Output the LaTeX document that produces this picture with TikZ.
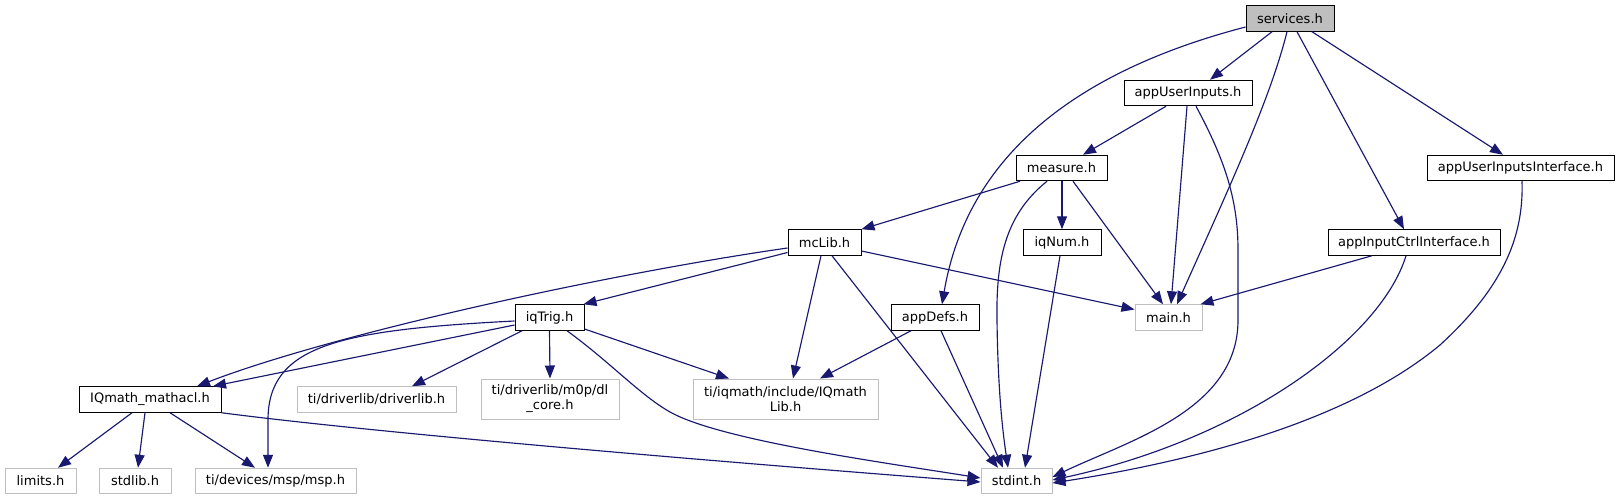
\documentclass[tikz,border=0pt]{standalone}
\usepackage{fontspec}
\setmainfont{DejaVu Sans}
\usetikzlibrary{arrows.meta,calc}
\definecolor{edgeblue}{HTML}{191970}
\definecolor{lightgr}{HTML}{BFBFBF}
\begin{document}
\begin{tikzpicture}[x=1pt,y=-1pt,
  box/.style={draw=black,line width=1pt,fill=white,rectangle,inner sep=0pt,minimum height=25.5pt,font=\fontsize{13}{15}\selectfont,text=black,align=center},
  ext/.style={box,draw=lightgr},
  root/.style={box,fill=lightgr},
  dep/.style={draw=edgeblue,line width=1.15pt,-{Triangle[length=13pt,width=10pt]}}]
\useasboundingbox (0,0) rectangle (1619,500);
% nodes
\node[root,minimum width=88pt]  (svc)  at (1290,18.5)  {services.h};
\node[box,minimum width=128pt]  (aui)  at (1188,93)    {appUserInputs.h};
\node[box,minimum width=187pt]  (auii) at (1520.5,168) {appUserInputsInterface.h};
\node[box,minimum width=91pt]   (meas) at (1061.5,168) {measure.h};
\node[box,minimum width=73pt]   (mcl)  at (824.5,242.5) {mcLib.h};
\node[box,minimum width=78pt]   (iqn)  at (1062,242.5) {iqNum.h};
\node[box,minimum width=172pt]  (aici) at (1414,242.5) {appInputCtrlInterface.h};
\node[box,minimum width=69pt]   (iqt)  at (549.5,317.5) {iqTrig.h};
\node[box,minimum width=88pt]   (apd)  at (935,317.5)  {appDefs.h};
\node[ext,minimum width=67pt]   (mainh) at (1168.5,317.5) {main.h};
\node[box,minimum width=142pt]  (iqm)  at (150,399.5)  {IQmath\_mathacl.h};
\node[ext,minimum width=159pt]  (drv)  at (376.5,399.5) {ti/driverlib/driverlib.h};
\node[ext,minimum width=138pt,minimum height=40pt] (dlc) at (550,399) {ti/driverlib/m0p/dl\\\_core.h};
\node[ext,minimum width=185pt,minimum height=40pt] (iqml) at (785.5,399) {ti/iqmath/include/IQmath\\Lib.h};
\node[ext,minimum width=71pt]   (lim)  at (40.5,481)   {limits.h};
\node[ext,minimum width=72pt]   (stdl) at (135,481)    {stdlib.h};
\node[ext,minimum width=161pt]  (msp)  at (275.5,481)  {ti/devices/msp/msp.h};
\node[ext,minimum width=71pt]   (sti)  at (1016.5,481) {stdint.h};
% edges from services.h
\draw[dep] ([xshift=-18pt]svc.south) -- ([xshift=22pt]aui.north);
\draw[dep] ([yshift=-8.5pt]svc.west) .. controls (1100,65) and (970,140) .. ([xshift=7pt]apd.north);
\draw[dep] ([xshift=-3pt]svc.south) .. controls (1270,100) and (1228,190) .. ([xshift=8.5pt]mainh.north);
\draw[dep] ([xshift=7pt]svc.south) -- ([xshift=-10pt]aici.north);
\draw[dep] ([xshift=22pt]svc.south) -- ([xshift=-17.5pt]auii.north);
% appUserInputs.h
\draw[dep] ([xshift=-22pt]aui.south) -- ([xshift=21.5pt]meas.north);
\draw[dep] ([xshift=-1pt]aui.south) -- ([xshift=2.5pt]mainh.north);
\draw[dep] ([xshift=8pt]aui.south) .. controls (1225,160) and (1238,200) .. (1238,250) -- (1238,320) .. controls (1238,410) and (1130,440) .. ([yshift=4pt]sti.east);
% appUserInputsInterface.h
\draw[dep] ([xshift=1.5pt]auii.south) .. controls (1524,240) and (1500,290) .. (1440,345) .. controls (1350,420) and (1200,460) .. ([yshift=-2pt]sti.east);
% appInputCtrlInterface.h
\draw[dep] ([xshift=-42pt]aici.south) -- ([xshift=-2pt]mainh.north east);
\draw[dep] ([xshift=-8pt]aici.south) .. controls (1380,340) and (1240,440) .. ([yshift=1pt]sti.east);
% measure.h
\draw[dep] ([xshift=-41.5pt]meas.south) -- (mcl.north east);
\draw[dep] ([xshift=0.5pt]meas.south) -- (iqn.north);
\draw[dep] ([xshift=11.5pt]meas.south) -- ([xshift=-5.5pt]mainh.north);
\draw[dep] ([xshift=-14.5pt]meas.south) .. controls (1005,215) and (996,260) .. (997,320) .. controls (998,400) and (1004,440) .. ([xshift=-8.5pt]sti.north);
% mcLib.h
\draw[dep] ([yshift=-10pt]mcl.west) -- ([xshift=-1pt]iqt.north east);
\draw[dep] ([yshift=-5.5pt]mcl.west) .. controls (600,275) and (330,335) .. ([xshift=47pt]iqm.north);
\draw[dep] ([xshift=-3.5pt]mcl.south) -- ([xshift=7.5pt]iqml.north);
\draw[dep] ([xshift=7.5pt]mcl.south) -- ([xshift=-18.5pt]sti.north);
\draw[dep] ([yshift=-8.5pt]mcl.east) -- ([yshift=8pt]mainh.west);
% iqTrig.h
\draw[dep] ([yshift=-7.5pt]iqt.west) -- ([xshift=63pt]iqm.north);
\draw[dep] ([yshift=-3.5pt]iqt.west) .. controls (340,330) and (268,345) .. (268,420) -- ([xshift=-7.5pt]msp.north);
\draw[dep] ([xshift=-27.5pt]iqt.south) -- ([xshift=35.5pt]drv.north);
\draw[dep] (iqt.south) -- (dlc.north);
\draw[dep] ([yshift=-11.5pt]iqt.east) -- ([xshift=-56.5pt]iqml.north);
\draw[dep] ([xshift=17.5pt]iqt.south) .. controls (610,362) and (640,395) .. (670,412) .. controls (720,440) and (880,462) .. ([yshift=3pt]sti.west);
% appDefs.h
\draw[dep] ([xshift=-24pt]apd.south) -- ([xshift=34.5pt]iqml.north);
\draw[dep] ([xshift=6pt]apd.south) -- ([xshift=-13.5pt]sti.north);
% iqNum.h
\draw[dep] ([xshift=-2pt]iqn.south) -- ([xshift=8.5pt]sti.north);
% IQmath_mathacl.h
\draw[dep] ([xshift=-18pt]iqm.south) -- ([xshift=17.5pt]lim.north);
\draw[dep] ([xshift=-5pt]iqm.south) -- ([xshift=3pt]stdl.north);
\draw[dep] ([xshift=20pt]iqm.south) -- ([xshift=-20.5pt]msp.north);
\draw[dep] (iqm.south east) .. controls (400,436) and (800,468) .. ([yshift=-1pt]sti.west);
\end{tikzpicture}
\end{document}
